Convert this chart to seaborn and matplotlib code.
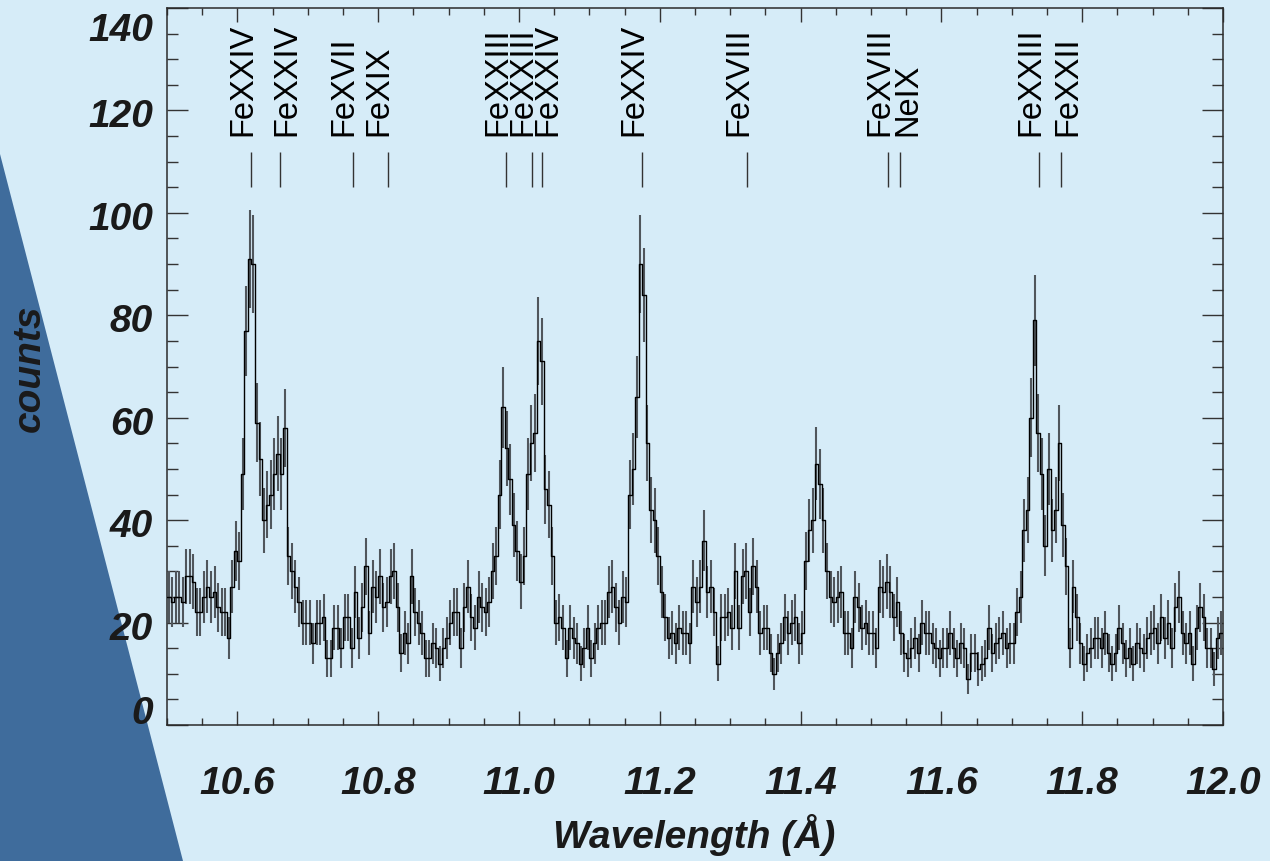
import numpy as np
import pandas as pd
import matplotlib
matplotlib.use("Agg")
import matplotlib.pyplot as plt
import matplotlib.transforms as mtransforms
from matplotlib.patches import Polygon
from matplotlib.ticker import MultipleLocator, FixedLocator
import seaborn as sns

# ---------------- data ----------------
BIN_START = 10.5      # Angstrom, left edge of first bin
BIN_WIDTH = 0.005     # Angstrom

counts_1050_1075 = [25, 24, 25, 25, 24, 29, 29, 28, 22, 22,
                    25, 27, 25, 26, 23, 22, 22, 17, 27, 34,
                    32, 49, 77, 91, 90, 59, 52, 40, 43, 45,
                    49, 53, 49, 58, 33, 30, 27, 24, 20, 20,
                    20, 16, 20, 20, 21, 13, 13, 19, 19, 15]
counts_1075_1100 = [21, 21, 15, 26, 17, 23, 31, 18, 27, 25,
                    29, 23, 24, 29, 30, 23, 14, 18, 16, 29,
                    22, 20, 18, 13, 13, 16, 15, 12, 15, 17,
                    20, 22, 22, 15, 23, 27, 21, 19, 25, 23,
                    22, 24, 30, 33, 45, 62, 54, 48, 39, 34]
counts_1100_1125 = [28, 33, 49, 55, 57, 75, 71, 46, 43, 33,
                    20, 21, 19, 13, 19, 17, 16, 12, 15, 19,
                    13, 16, 19, 20, 20, 26, 27, 23, 20, 25,
                    24, 45, 50, 64, 90, 84, 55, 42, 40, 33,
                    26, 21, 17, 18, 16, 19, 18, 18, 16, 27]
counts_1125_1150 = [24, 27, 36, 26, 27, 22, 12, 21, 21, 22,
                    19, 30, 19, 29, 30, 22, 31, 27, 18, 19,
                    19, 14, 10, 14, 16, 21, 18, 20, 21, 16,
                    18, 32, 38, 40, 51, 47, 40, 30, 25, 24,
                    25, 26, 18, 18, 15, 25, 23, 19, 20, 18]
counts_1150_1175 = [18, 15, 27, 26, 28, 26, 21, 24, 18, 14,
                    13, 15, 17, 14, 20, 18, 18, 16, 15, 13,
                    15, 15, 18, 15, 13, 16, 15, 9, 14, 14,
                    11, 12, 13, 19, 14, 16, 17, 18, 15, 16,
                    16, 22, 25, 38, 42, 60, 79, 57, 49, 35]
counts_1175_1200 = [50, 38, 42, 55, 39, 31, 15, 27, 21, 16,
                    12, 14, 15, 17, 17, 15, 18, 14, 12, 14,
                    19, 16, 13, 15, 12, 16, 15, 14, 17, 18,
                    19, 16, 21, 17, 20, 15, 23, 25, 18, 16,
                    18, 12, 19, 23, 21, 15, 15, 11, 17, 18]

line_wavelengths = [10.620, 10.660, 10.764, 10.814, 10.981, 11.018, 11.032,
                    11.175, 11.324, 11.524, 11.541, 11.738, 11.770]
line_names = ["FeXXIV", "FeXXIV", "FeXVII", "FeXIX", "FeXXIII", "FeXXIII",
              "FeXXIV", "FeXXIV", "FeXVIII", "FeXVIII", "NeIX", "FeXXIII",
              "FeXXII"]

x_tick_values = [10.6, 10.8, 11.0, 11.2, 11.4, 11.6, 11.8, 12.0]
y_tick_values = [0, 20, 40, 60, 80, 100, 120, 140]

# ---------------- assemble ----------------
counts = np.array(counts_1050_1075 + counts_1075_1100 + counts_1100_1125 +
                  counts_1125_1150 + counts_1150_1175 + counts_1175_1200, float)
nbin = len(counts)
edges = BIN_START + BIN_WIDTH * np.arange(nbin + 1)
centers = 0.5 * (edges[:-1] + edges[1:])
errors = np.sqrt(counts)
df = pd.DataFrame({"wavelength": centers, "counts": counts})
step_df = pd.DataFrame({"edge": edges, "counts": np.append(counts, counts[-1])})

# label baseline positions (labels nudged apart where lines crowd)
label_x = [10.620, 10.682, 10.7636, 10.8136, 10.9816, 11.017, 11.053,
           11.175, 11.3243, 11.525, 11.5645, 11.739, 11.792]

# ---------------- style ----------------
BG = "#d6ecf8"
TRI = "#3f6c9c"
sns.set_theme(style="ticks")
plt.rcParams["font.family"] = ["Liberation Sans", "DejaVu Sans"]
plt.rcParams["axes.linewidth"] = 1.1
plt.rcParams["axes.edgecolor"] = "#2a2a2a"

fig = plt.figure(figsize=(12.7, 8.62), dpi=100, facecolor=BG)
fig.add_artist(Polygon([[0, 1 - 155 / 862], [0, 0], [183 / 1270, 0]],
                       closed=True, transform=fig.transFigure,
                       facecolor=TRI, edgecolor="none", zorder=0))

ax = fig.add_axes([167 / 1270, (862 - 726) / 862,
                   (1223 - 167) / 1270, (726 - 9) / 862])
ax.set_facecolor(BG)
ax.patch.set_alpha(0.0)

# error bars
ax.vlines(df["wavelength"], df["counts"] - errors, df["counts"] + errors,
          color="#50565c", lw=1.5, zorder=2)
# histogram steps
sns.lineplot(data=step_df, x="edge", y="counts", drawstyle="steps-post",
             color="black", linewidth=1.0, ax=ax, zorder=3,
             estimator=None, sort=False)

ax.set_xlim(10.5, 12.0)
ax.set_ylim(0, 140)
ax.set_xlabel("")
ax.set_ylabel("")

ax.xaxis.set_major_locator(FixedLocator(x_tick_values))
ax.xaxis.set_minor_locator(MultipleLocator(0.05))
ax.yaxis.set_major_locator(FixedLocator(y_tick_values))
ax.yaxis.set_minor_locator(MultipleLocator(5))
ax.set_xticklabels([f"{v:.1f}" for v in x_tick_values])
ax.set_yticklabels([f"{v:d}" for v in y_tick_values])

ax.tick_params(axis="x", which="major", direction="in", length=10, width=1.0,
               top=True, bottom=True, pad=29, labelsize=28, colors="#333333",
               labelcolor="#1a1a1a")
ax.tick_params(axis="x", which="minor", direction="in", length=5, width=1.0,
               top=True, bottom=True, colors="#333333")
ax.tick_params(axis="y", which="major", direction="in", length=15, width=1.0,
               left=True, right=True, pad=10, labelsize=28, colors="#333333",
               labelcolor="#1a1a1a")
ax.tick_params(axis="y", which="minor", direction="in", length=7.7, width=1.0,
               left=True, right=True, colors="#333333")

for lab in ax.get_xticklabels() + ax.get_yticklabels():
    lab.set_fontweight("bold")
    lab.set_fontstyle("italic")

for v, lab in zip(y_tick_values, ax.get_yticklabels()):
    if v == 0:
        lab.set_va("bottom")
        shift = -6
    elif v == 140:
        lab.set_va("top")
        shift = -4
    else:
        lab.set_va("center")
        shift = -6
    lab.set_transform(lab.get_transform() +
                      mtransforms.ScaledTranslation(0, shift / 100, fig.dpi_scale_trans))

sns.despine(ax=ax, top=False, right=False)

# line markers and labels
ax.vlines(line_wavelengths, 105.1, 111.9, color="#333333", lw=1.0, zorder=3)
for lx, name in zip(label_x, line_names):
    ax.text(lx, 115.2, name, rotation=90, rotation_mode="anchor",
            ha="left", va="baseline", fontsize=23.5, color="black",
            fontweight="normal", fontstyle="normal", clip_on=False)

# axis titles
fig.text(694 / 1270, 1 - 835 / 862, "Wavelength (Å)", ha="center", va="center",
         fontsize=28, fontweight="bold", fontstyle="italic", color="#1a1a1a")
fig.text(30 / 1270, 1 - 368 / 862, "counts", rotation=90, ha="center",
         va="center", fontsize=28, fontweight="bold", fontstyle="italic",
         color="#1a1a1a")

fig.savefig("out.png", dpi=100, facecolor=BG)
